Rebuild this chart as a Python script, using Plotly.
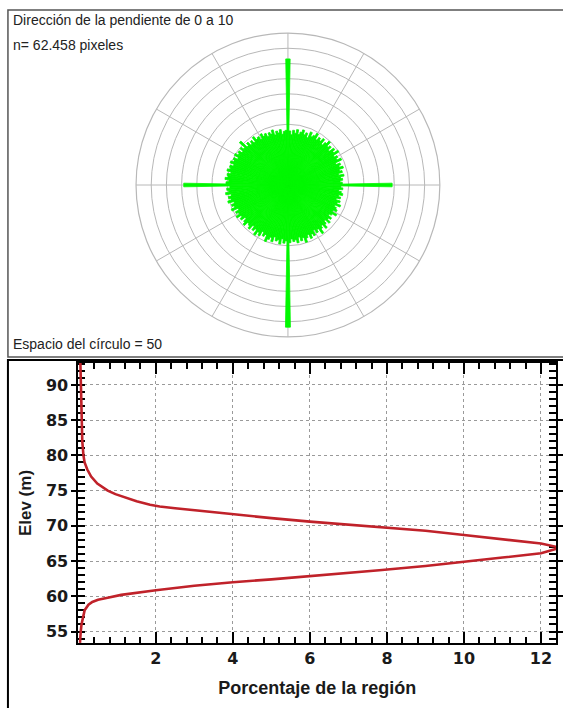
import plotly.graph_objects as go

W, H = 563, 708

# ---------------- Rose diagram data (bearing in degrees, 2-degree bins) ----------------
rose_bearing = list(range(0, 360, 2))
rose_count = [
    415, 178, 166, 181, 172, 185, 170, 179, 188, 174,
    182, 168, 190, 177, 184, 195, 176, 187, 180, 192,
    174, 186, 198, 182, 189, 176, 193, 184, 200, 178,
    188, 181, 195, 172, 186, 179, 191, 176, 184, 170,
    187, 175, 181, 172, 179, 343, 174, 181, 168, 177,
    183, 170, 178, 165, 180, 172, 186, 168, 176, 182,
    170, 188, 174, 166, 180, 172, 185, 168, 178, 190,
    173, 181, 196, 175, 184, 170, 188, 179, 192, 176,
    185, 198, 180, 189, 175, 193, 182, 187, 178, 190,
    468, 184, 192, 178, 196, 183, 188, 176, 194, 181,
    190, 200, 179, 187, 174, 192, 183, 198, 180, 189,
    176, 193, 185, 181, 196, 188, 177, 192, 184, 199,
    186, 194, 181, 203, 190, 197, 186, 205, 193, 200,
    189, 207, 196, 202, 191, 343, 204, 195, 208, 199,
    203, 192, 206, 197, 201, 190, 204, 194, 199, 186,
    202, 191, 196, 185, 198, 188, 212, 184, 193, 180,
    189, 178, 195, 182, 186, 174, 190, 179, 185, 172,
    183, 176, 188, 170, 181, 174, 184, 168, 177, 180,
]
rose_ring_step = 50
rose_max = 500

# ---------------- Hypsometric curve data ----------------
elev_m = [93.2, 90, 85, 82, 80, 79, 78, 77, 76, 75.5, 75, 74.5, 74, 73.5, 73, 72.75, 72.5, 72.2,
          71.6, 71.1, 70.6, 70.2, 69.8, 69.3, 68.7, 68.1, 67.5, 66.9,
          66.1, 65.5, 64.9, 64.3, 63.7, 63.3, 62.8, 62.4, 62.0, 61.5,
          60.85, 60.5, 60.2, 59.8, 59.5, 59.2, 58.8, 58.0, 57.0, 56.0, 55.0, 53.4]
pct_region = [0.04, 0.05, 0.07, 0.09, 0.12, 0.15, 0.22, 0.32, 0.48, 0.6, 0.75, 0.95, 1.2, 1.5, 1.85, 2.1, 2.5, 3.0,
              4.0, 5.0, 6.0, 7.0, 7.8, 9.0, 10.0, 11.0, 12.0, 12.5,
              12.0, 11.0, 10.0, 9.0, 7.8, 7.0, 6.0, 5.0, 4.0, 3.0,
              2.0, 1.5, 1.1, 0.75, 0.5, 0.35, 0.25, 0.15, 0.1, 0.07, 0.05, 0.03]
x_ticks = [2, 4, 6, 8, 10, 12]
y_ticks = [55, 60, 65, 70, 75, 80, 85, 90]

title_lines = ["Dirección de la pendiente de 0 a 10", "n= 62.458 pixeles"]
footer_text = "Espacio del círculo = 50"
x_title = "Porcentaje de la región"
y_title = "Elev (m)"


def px_x(v):
    return v / W


def px_y(v):
    return 1 - v / H


fig = go.Figure()

green = "#00f800"
fig.add_trace(go.Barpolar(
    r=rose_count, theta=rose_bearing, width=[2] * len(rose_bearing),
    marker=dict(color=green, line=dict(width=0.8, color=green)),
    subplot="polar", showlegend=False, hoverinfo="skip",
))

fig.add_trace(go.Scatter(
    x=pct_region, y=elev_m, mode="lines",
    line=dict(color="#c0222a", width=2.6),
    xaxis="x", yaxis="y", showlegend=False,
))

grid_grey = "#b8b8b8"
fig.update_layout(
    width=W, height=H,
    margin=dict(l=0, r=0, t=0, b=0),
    paper_bgcolor="white", plot_bgcolor="white",
    polar=dict(
        domain=dict(x=[px_x(137), px_x(443)], y=[px_y(338), px_y(32)]),
        bgcolor="white",
        angularaxis=dict(rotation=90, direction="clockwise", dtick=30,
                         showticklabels=False, ticks="", gridcolor=grid_grey,
                         gridwidth=1.2, linecolor=grid_grey, linewidth=1.2, layer="below traces"),
        radialaxis=dict(range=[0, rose_max], dtick=rose_ring_step, showticklabels=False,
                        ticks="", showline=False, gridcolor=grid_grey, gridwidth=1.2,
                        layer="below traces"),
        barmode="overlay",
    ),
    xaxis=dict(
        domain=[px_x(79), px_x(560)], anchor="y",
        range=[-0.01, 12.39], tickvals=x_ticks, ticks="inside", ticklen=11, tickwidth=2,
        tickcolor="black",
        minor=dict(dtick=0.4, tick0=0, ticks="inside", ticklen=6, tickwidth=1.6, tickcolor="black",
                   showgrid=False),
        mirror="ticks", showline=True, linecolor="black", linewidth=2,
        showgrid=True, gridcolor="#9a9a9a", griddash="dot", gridwidth=1,
        tickfont=dict(family="DejaVu Sans", size=16, color="#1a1a1a", weight="bold"),
        title=dict(text=x_title, font=dict(family="Liberation Sans, Arial", size=18, color="#1a1a1a",
                                           weight="bold"), standoff=14),
        zeroline=False, layer="below traces",
    ),
    yaxis=dict(
        domain=[px_y(643), px_y(363)], anchor="x",
        range=[53.37, 93.12], tickvals=y_ticks, ticks="outside", ticklen=5, tickwidth=2,
        tickcolor="black",
        minor=dict(dtick=1, tick0=0, ticks="inside", ticklen=7, tickwidth=2, tickcolor="black",
                   showgrid=False),
        mirror="ticks", showline=True, linecolor="black", linewidth=2,
        showgrid=True, gridcolor="#9a9a9a", griddash="dot", gridwidth=1,
        tickfont=dict(family="DejaVu Sans", size=16, color="#1a1a1a", weight="bold"),
        title=dict(text=y_title, font=dict(family="Liberation Sans, Arial", size=17, color="#1a1a1a",
                                           weight="bold"), standoff=10),
        zeroline=False, layer="below traces",
    ),
    shapes=[
        dict(type="rect", xref="paper", yref="paper", x0=px_x(8), x1=px_x(570),
             y0=px_y(357), y1=px_y(10), line=dict(color="#555", width=1.5)),
        dict(type="rect", xref="paper", yref="paper", x0=px_x(8), x1=px_x(570),
             y0=px_y(712), y1=px_y(360), line=dict(color="black", width=2)),
    ],
    annotations=[
        dict(text=title_lines[0], xref="paper", yref="paper", x=px_x(11), y=px_y(10),
             xanchor="left", yanchor="top", showarrow=False,
             font=dict(family="Liberation Sans, Arial", size=14, color="#222")),
        dict(text=title_lines[1], xref="paper", yref="paper", x=px_x(11), y=px_y(35),
             xanchor="left", yanchor="top", showarrow=False,
             font=dict(family="Liberation Sans, Arial", size=14, color="#222")),
        dict(text=footer_text, xref="paper", yref="paper", x=px_x(11), y=px_y(354),
             xanchor="left", yanchor="bottom", showarrow=False,
             font=dict(family="Liberation Sans, Arial", size=14, color="#222")),
    ],
)

fig.write_html("out.html", config={"displayModeBar": False},
               post_script="document.body.style.margin='0';")
